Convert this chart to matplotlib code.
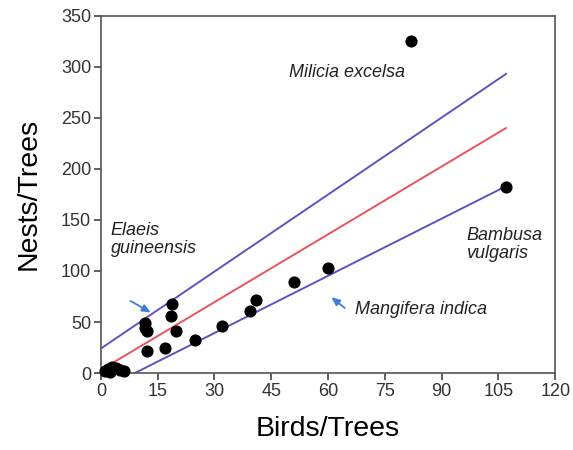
import matplotlib.pyplot as plt

# scatter: birds per tree vs nests per tree
birds = [82, 107, 60, 51, 41, 39.4, 32, 24.8, 19.8, 16.9, 18.8, 18.4,
         11.6, 12.1, 11.6, 12.1, 1, 2, 3, 4, 5, 6, 2.5]
nests = [325, 182, 103, 89, 72, 60.5, 46, 32, 41, 25, 68, 56,
         49, 41, 44, 21.6, 2, 4, 6, 5, 3, 2, 1]

# regression line and its bounds (end points)
fit_x = [0, 107]
fit_y = [3, 240]
upper_x = [0, 107]
upper_y = [24, 293]
lower_x = [9, 107]
lower_y = [0, 183]

x_ticks = [0, 15, 30, 45, 60, 75, 90, 105, 120]
y_ticks = [0, 50, 100, 150, 200, 250, 300, 350]

tick_font = ["Liberation Sans Narrow", "Liberation Sans", "DejaVu Sans"]
label_font = ["Liberation Sans", "DejaVu Sans"]

fig = plt.figure(figsize=(5.73, 4.5), dpi=100)
ax = fig.add_axes([0.176, 0.171, 0.793, 0.794])

ax.plot(upper_x, upper_y, color="#5a55c0", lw=1.4, zorder=2)
ax.plot(lower_x, lower_y, color="#5a55c0", lw=1.4, zorder=2)
ax.plot(fit_x, fit_y, color="#e8545c", lw=1.4, zorder=2)
ax.scatter(birds, nests, s=60, color="black", zorder=3, clip_on=False)

ax.set_xlim(0, 120)
ax.set_ylim(0, 350)
ax.set_xticks(x_ticks)
ax.set_yticks(y_ticks)
for lab in ax.get_xticklabels() + ax.get_yticklabels():
    lab.set_family(tick_font)
    lab.set_fontsize(13)
    lab.set_color("#333333")
ax.tick_params(direction="out", length=5, width=1.2, color="#444444", pad=2)
for side in ax.spines.values():
    side.set_color("#555555")
    side.set_linewidth(1.2)

ax.set_xlabel("Birds/Trees", fontsize=20.5, family=label_font, labelpad=12)
ax.set_ylabel("Nests/Trees", fontsize=20.5, family=label_font, labelpad=14)

note = dict(fontsize=13, style="italic", family=label_font, color="#222222")
ax.text(65, 294, "Milicia excelsa", ha="center", va="center", **note)
ax.text(96.5, 126, "Bambusa\nvulgaris", ha="left", va="center",
        linespacing=1.1, **note)
ax.text(2.6, 131, "Elaeis\nguineensis", ha="left", va="center",
        linespacing=1.1, **note)
ax.text(67, 62, "Mangifera indica", ha="left", va="center", **note)

arrow = dict(arrowstyle="-|>,head_length=0.5,head_width=0.22",
             color="#3d7fd0", lw=1.3)
ax.annotate("", xy=(13.8, 58), xytext=(7.2, 72), arrowprops=arrow)
ax.annotate("", xy=(60.3, 76), xytext=(65, 62), arrowprops=arrow)

fig.savefig("out.png", dpi=100)
